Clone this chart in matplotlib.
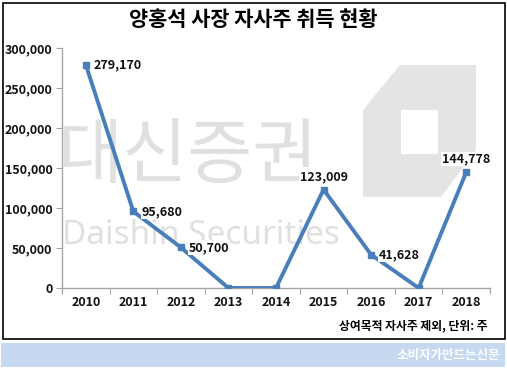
import matplotlib
matplotlib.use("Agg")
import matplotlib.pyplot as plt
from matplotlib.patches import Polygon, Rectangle

plt.rcParams['font.family'] = ['Noto Sans CJK KR', 'DejaVu Sans']

# 데이터
years = ["2010", "2011", "2012", "2013", "2014", "2015", "2016", "2017", "2018"]
shares = [279170, 95680, 50700, 0, 0, 123009, 41628, 0, 144778]
y_ticks = [0, 50000, 100000, 150000, 200000, 250000, 300000]

title = "양홍석 사장 자사주 취득 현황"
note = "상여목적 자사주 제외, 단위: 주"
source = "소비자가만드는신문"

W, H = 507, 369


def fx(px):
    return px / W


def fy(py):
    return 1 - py / H


fig = plt.figure(figsize=(W / 100, H / 100), dpi=100)

# 워터마크 (대신증권 로고)
wm_gray = "#e4e4e4"
outer = [(400, 65), (476, 65), (476, 150), (441, 197), (363, 197), (363, 110)]
fig.add_artist(Polygon([(fx(a), fy(b)) for a, b in outer], closed=True,
                       transform=fig.transFigure, facecolor=wm_gray,
                       edgecolor="none", zorder=-2))
hole = [(401, 110), (438, 110), (438, 154), (401, 154)]
fig.add_artist(Polygon([(fx(a), fy(b)) for a, b in hole], closed=True,
                       transform=fig.transFigure, facecolor="white",
                       edgecolor="none", zorder=-1.5))
fig.text(fx(57), fy(156), "대신증권", fontsize=51, color="#e0e0e0",
         fontweight="light", ha="left", va="center", zorder=-1)
fig.text(fx(62), fy(236), "Daishin Securities", fontsize=24, color="#e0e0e0",
         family=["Noto Sans", "DejaVu Sans"], fontweight="light",
         ha="left", va="center", zorder=-1)

ax = fig.add_axes([fx(62), fy(288), (490 - 62) / W, 240 / H])
ax.patch.set_alpha(0)

x = list(range(len(years)))
ax.plot(x, shares, color="#4a7ebb", linewidth=2.8, marker="s",
        markersize=4.5, zorder=3)

# 데이터 레이블
label_pos = ["r", "r", "r", None, None, "t", "r", None, "t"]
for i, (v, p) in enumerate(zip(shares, label_pos)):
    if p is None:
        continue
    if p == "r":
        off, ha = (8, 0), "left"
    else:
        off, ha = (0, 13), "center"
    ax.annotate(f"{v:,}", (i, v), xytext=off, textcoords="offset pixels",
                ha=ha, va="center", fontsize=9, fontweight="bold",
                color="#111111", zorder=4,
                bbox=dict(boxstyle="square,pad=0.05", facecolor="white",
                          edgecolor="none"))

ax.set_xlim(-0.5, len(years) - 0.5)
ax.set_ylim(0, 300000)
ax.set_yticks(y_ticks)
ax.set_yticklabels([f"{t:,}" for t in y_ticks])
ax.set_xticks([i + 0.5 for i in range(-1, len(years))], minor=False)
ax.set_xticklabels([])
ax.set_xticks(x, minor=True)
ax.set_xticklabels(years, minor=True)

for s in ["top", "right"]:
    ax.spines[s].set_visible(False)
for s in ["left", "bottom"]:
    ax.spines[s].set_color("#a6a6a6")
    ax.spines[s].set_linewidth(1)

ax.tick_params(axis="y", which="major", length=4, color="#a6a6a6",
               labelsize=9, pad=3)
ax.tick_params(axis="x", which="major", length=4, color="#a6a6a6")
ax.tick_params(axis="x", which="minor", length=0, labelsize=9, pad=6)
for lab in ax.get_yticklabels() + ax.get_xticklabels(minor=True):
    lab.set_fontweight("bold")
    lab.set_color("#111111")

# 제목, 주석
fig.text(0.5, fy(19), title, fontsize=15, fontweight="bold",
         ha="center", va="center")
fig.text(fx(488), fy(326), note, fontsize=8.5, fontweight="bold",
         ha="right", va="center")

# 테두리
fig.add_artist(Rectangle((fx(3), fy(339)), fx(502), (339 - 3) / H,
                         transform=fig.transFigure, fill=False,
                         edgecolor="black", linewidth=1.2))

# 하단 바
fig.add_artist(Rectangle((fx(1), fy(367)), fx(504), 24 / H,
                         transform=fig.transFigure, facecolor="#c6d9f0",
                         edgecolor="none"))
fig.text(fx(500), fy(355), source, fontsize=9, fontweight="bold",
         color="white", ha="right", va="center")

fig.savefig("out.png", dpi=100)
